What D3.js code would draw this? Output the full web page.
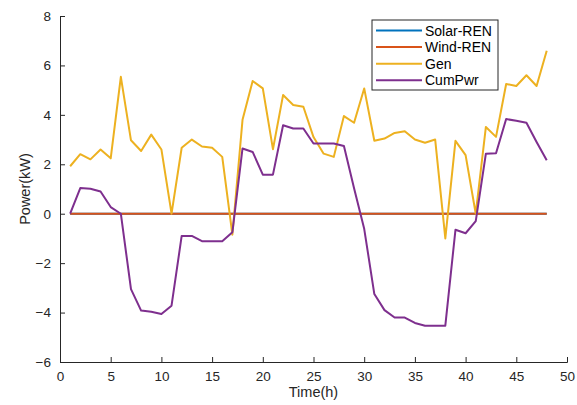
<!DOCTYPE html>
<html>
<head>
<meta charset="utf-8">
<script src="https://cdn.jsdelivr.net/npm/d3@7"></script>
<style>
  body { margin: 0; background: #fff; }
  text { font-family: "Liberation Sans", Arial, sans-serif; }
</style>
</head>
<body>
<div id="chart"></div>
<script>
const hours = d3.range(1, 49);
const solarRen = hours.map(() => 0);
const windRen = hours.map(() => 0);
const gen = [1.92, 2.41, 2.2, 2.6, 2.24, 5.54, 2.97, 2.54, 3.2, 2.6,
  0, 2.67, 3.0, 2.72, 2.67, 2.3, -0.85, 3.8, 5.37, 5.07,
  2.61, 4.8, 4.4, 4.33, 3.1, 2.43, 2.3, 3.95, 3.68, 5.07,
  2.95, 3.04, 3.27, 3.34, 3.0, 2.87, 3.0, -1.0, 2.95, 2.37,
  0, 3.51, 3.11, 5.25, 5.17, 5.6, 5.17, 6.59];
const cumPwr = [0, 1.04, 1.01, 0.9, 0.27, 0, -3.05, -3.92, -3.97, -4.06,
  -3.72, -0.9, -0.9, -1.11, -1.11, -1.11, -0.75, 2.64, 2.5, 1.58,
  1.58, 3.58, 3.45, 3.45, 2.84, 2.84, 2.84, 2.74, 1.03, -0.61,
  -3.25, -3.9, -4.2, -4.2, -4.42, -4.53, -4.53, -4.53, -0.65, -0.79,
  -0.3, 2.43, 2.45, 3.83, 3.76, 3.68, 2.9, 2.16];
const seriesNames = ["Solar-REN", "Wind-REN", "Gen", "CumPwr"];
const seriesColors = ["#0072BD", "#D95319", "#EDB120", "#7E2F8E"];
const xTicks = d3.range(0, 51, 5);
const yTicks = d3.range(-6, 9, 2);

const W = 577, H = 405;
const margin = { left: 60, right: 10, top: 16, bottom: 43 };

const svg = d3.select("#chart").append("svg")
  .attr("width", W).attr("height", H);

const x = d3.scaleLinear().domain([0, 50]).range([margin.left, W - margin.right]);
const y = d3.scaleLinear().domain([-6, 8]).range([H - margin.bottom, margin.top]);

// axes (MATLAB style: ticks inside)
const axColor = "#262626";
const xAxis = svg.append("g")
  .attr("transform", `translate(0,${H - margin.bottom})`)
  .call(d3.axisBottom(x).tickValues(xTicks).tickSize(-5).tickPadding(9));
const yAxis = svg.append("g")
  .attr("transform", `translate(${margin.left},0)`)
  .call(d3.axisLeft(y).tickValues(yTicks).tickSize(-5).tickPadding(9));

[xAxis, yAxis].forEach(g => {
  g.select(".domain").attr("stroke", axColor).attr("stroke-width", 1);
  g.selectAll(".tick line").attr("stroke", axColor);
  g.selectAll(".tick text").attr("fill", axColor)
    .style("font-size", "13.5px");
});

svg.append("text")
  .attr("x", (x(0) + x(50)) / 2).attr("y", H - 8)
  .attr("text-anchor", "middle").attr("fill", axColor)
  .style("font-size", "14.5px")
  .text("Time(h)");

svg.append("text")
  .attr("transform", `translate(30,${(y(-6) + y(8)) / 2}) rotate(-90)`)
  .attr("text-anchor", "middle").attr("fill", axColor)
  .style("font-size", "14.5px")
  .text("Power(kW)");

// lines
const allSeries = [solarRen, windRen, gen, cumPwr];
const line = d3.line().x((d, i) => x(hours[i])).y(d => y(d));
allSeries.forEach((s, k) => {
  svg.append("path")
    .datum(s)
    .attr("fill", "none")
    .attr("stroke", seriesColors[k])
    .attr("stroke-width", 2)
    .attr("stroke-linejoin", "round")
    .attr("d", line);
});

// legend
const lg = svg.append("g").attr("transform", "translate(372,20)");
lg.append("rect")
  .attr("width", 126).attr("height", 70)
  .attr("fill", "#fff").attr("stroke", axColor).attr("stroke-width", 1);
seriesNames.forEach((name, k) => {
  const ry = 10.5 + k * 16.6;
  lg.append("line")
    .attr("x1", 4).attr("x2", 50).attr("y1", ry).attr("y2", ry)
    .attr("stroke", seriesColors[k]).attr("stroke-width", 2);
  lg.append("text")
    .attr("x", 53).attr("y", ry).attr("dy", "0.36em")
    .attr("fill", "#000")
    .style("font-size", "14px")
    .text(name);
});
</script>
</body>
</html>
